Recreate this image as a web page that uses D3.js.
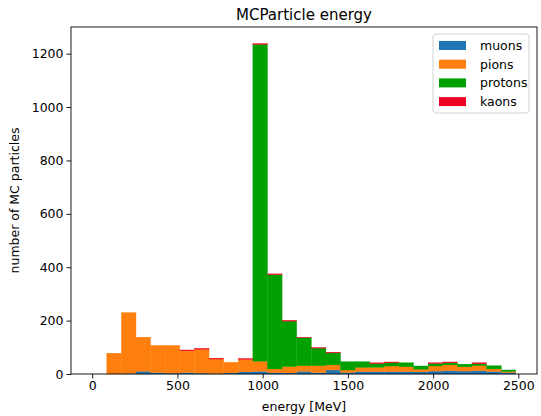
<!DOCTYPE html>
<html>
<head>
<meta charset="utf-8">
<script src="https://cdn.jsdelivr.net/npm/d3@7"></script>
<style>
  body { margin: 0; background: #fff; }
  text { font-family: "DejaVu Sans", sans-serif; fill: #000; }
</style>
</head>
<body>
<svg id="chart" width="541" height="416"></svg>
<script>
// Histogram binning (MeV)
const binStart = 0;
const binWidth = 85.7;
const nBins = 29;

// Counts per bin, one array per particle species (stacked bottom to top)
const muons   = [0, 0, 2, 10, 5, 3, 5, 3, 1, 4, 8, 10, 5, 4, 10, 5, 15, 6, 9, 9, 9, 9, 8, 11, 12, 11, 12, 9, 5];
const pions   = [0, 78, 228, 128, 102, 104, 82, 90, 55, 40, 47, 38, 14, 24, 21, 26, 19, 9, 16, 16, 21, 18, 10, 19, 22, 16, 19, 10, 4];
const protons = [0, 0, 0, 0, 0, 0, 0, 0, 0, 0, 0, 1187, 353, 170, 105, 66, 45, 31, 21, 14, 12, 15, 12, 9, 8, 10, 7, 12, 6];
const kaons   = [0, 0, 0, 0, 0, 0, 3, 3, 3, 0, 3, 3, 3, 3, 2, 2, 2, 0, 0, 3, 3, 0, 0, 3, 3, 0, 4, 0, 0];

const seriesNames = ["muons", "pions", "protons", "kaons"];
const seriesColors = ["#1f77b4", "#ff7f0e", "#00a000", "#ee0022"];

const xTicks = [0, 500, 1000, 1500, 2000, 2500];
const yTicks = [0, 200, 400, 600, 800, 1000, 1200];

const svg = d3.select("#chart");
const m = { left: 71, right: 537, top: 27, bottom: 374 };
const fontSize = "12.5px";

const bins = d3.range(nBins).map(i => ({
  x0: binStart + i * binWidth,
  x1: binStart + (i + 1) * binWidth,
  muons: muons[i], pions: pions[i], protons: protons[i], kaons: kaons[i]
}));

const dataMin = binStart, dataMax = binStart + nBins * binWidth;
const pad = 0.05 * (dataMax - dataMin);
const x = d3.scaleLinear().domain([dataMin - pad, dataMax + pad]).range([m.left, m.right]);

const stacked = d3.stack().keys(seriesNames)(bins);
const maxTotal = d3.max(stacked[stacked.length - 1], d => d[1]);
const y = d3.scaleLinear().domain([0, maxTotal * 1.05]).range([m.bottom, m.top]);

// Bars (a hairline stroke in the fill colour closes antialiasing seams)
svg.append("g").selectAll("g")
  .data(stacked)
  .join("g")
  .attr("fill", (d, i) => seriesColors[i])
  .attr("stroke", (d, i) => seriesColors[i])
  .attr("stroke-width", 0.35)
  .selectAll("rect")
  .data(d => d.filter(s => s[1] > s[0]))
  .join("rect")
  .attr("x", d => x(d.data.x0))
  .attr("width", d => x(d.data.x1) - x(d.data.x0))
  .attr("y", d => y(d[1]))
  .attr("height", d => y(d[0]) - y(d[1]));

// Axes
const xAxis = d3.axisBottom(x).tickValues(xTicks).tickFormat(d3.format("d")).tickSize(4.5).tickPadding(3);
const yAxis = d3.axisLeft(y).tickValues(yTicks).tickFormat(d3.format("d")).tickSize(4.5).tickPadding(3);

const gx = svg.append("g").attr("transform", `translate(0,${m.bottom})`).call(xAxis);
const gy = svg.append("g").attr("transform", `translate(${m.left},0)`).call(yAxis);
[gx, gy].forEach(g => {
  g.select(".domain").remove();
  g.selectAll("text").style("font-size", fontSize).style("font-family", "DejaVu Sans, sans-serif");
  g.selectAll("line").attr("stroke", "#000").attr("stroke-width", 0.9);
});

// Frame
svg.append("rect")
  .attr("x", m.left).attr("y", m.top)
  .attr("width", m.right - m.left).attr("height", m.bottom - m.top)
  .attr("fill", "none").attr("stroke", "#000").attr("stroke-width", 0.9);

// Titles
svg.append("text").attr("x", (m.left + m.right) / 2).attr("y", 20)
  .attr("text-anchor", "middle").style("font-size", "15px").text("MCParticle energy");
svg.append("text").attr("x", (m.left + m.right) / 2).attr("y", 411)
  .attr("text-anchor", "middle").style("font-size", fontSize).text("energy [MeV]");
svg.append("text")
  .attr("transform", `translate(19,${(m.top + m.bottom) / 2}) rotate(-90)`)
  .attr("text-anchor", "middle").style("font-size", fontSize).text("number of MC particles");

// Legend
const lg = svg.append("g").attr("transform", "translate(433,34)");
lg.append("rect").attr("width", 96).attr("height", 79).attr("rx", 3)
  .attr("fill", "#fff").attr("fill-opacity", 0.8).attr("stroke", "#ccc").attr("stroke-width", 0.9);
seriesNames.forEach((name, i) => {
  const row = lg.append("g").attr("transform", `translate(6,${7 + i * 18.7})`);
  row.append("rect").attr("width", 27).attr("height", 9).attr("fill", seriesColors[i]);
  row.append("text").attr("x", 41).attr("y", 9).style("font-size", fontSize).text(name);
});
</script>
</body>
</html>
